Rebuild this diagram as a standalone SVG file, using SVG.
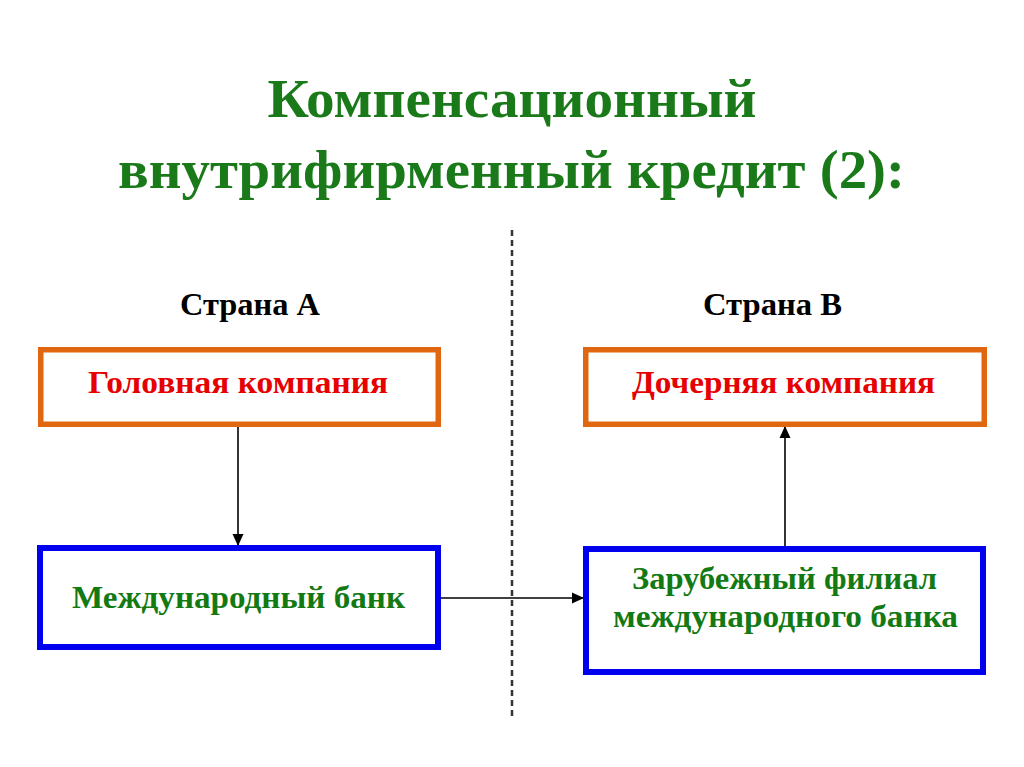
<svg xmlns="http://www.w3.org/2000/svg" width="1024" height="767" viewBox="0 0 1024 767">
<defs>
<marker id="arr" markerWidth="12" markerHeight="12" refX="11" refY="6" orient="auto" markerUnits="userSpaceOnUse"><path d="M0,0.5 L12,6 L0,11.5 Z" fill="#000"/></marker>
<style>
text{font-family:"Liberation Serif","Times New Roman",serif;font-weight:bold;text-anchor:middle}
.title{font-size:55px;fill:#1a7a1a}
.lbl{font-size:32px;fill:#000}
.red{font-size:32px;fill:#e60000}
.grn{font-size:32px;fill:#137a13}
.ob{fill:#fff;stroke:#e0660f;stroke-width:5.5}
.bb{fill:#fff;stroke:#0000ee;stroke-width:6}
.con{stroke:#000;stroke-width:1.6;fill:none;marker-end:url(#arr)}
</style>
</defs>
<rect width="1024" height="767" fill="#fff"/>
<text class="title" x="512" y="117" textLength="489" lengthAdjust="spacingAndGlyphs">Компенсационный</text>
<text class="title" x="511.5" y="188" textLength="787" lengthAdjust="spacingAndGlyphs">внутрифирменный кредит (2):</text>
<line x1="512" y1="230" x2="512" y2="720" stroke="#333" stroke-width="2.5" stroke-dasharray="6,4"/>
<text class="lbl" x="250" y="315" textLength="140" lengthAdjust="spacingAndGlyphs">Страна А</text>
<text class="lbl" x="772.5" y="315" textLength="139" lengthAdjust="spacingAndGlyphs">Страна В</text>
<g id="connectors">
<line class="con" x1="238" y1="427" x2="238" y2="545"/>
<line class="con" x1="441" y1="598" x2="583" y2="598"/>
<line class="con" x1="785" y1="546" x2="785" y2="427"/>
</g>
<g id="head">
<rect class="ob" x="40.75" y="349.75" width="397.5" height="74.5"/>
<text class="red" x="238" y="393" textLength="300" lengthAdjust="spacingAndGlyphs">Головная компания</text>
</g>
<g id="bank">
<rect class="bb" x="40" y="548" width="398" height="99"/>
<text class="grn" x="238.5" y="608" textLength="333" lengthAdjust="spacingAndGlyphs">Международный банк</text>
</g>
<g id="sub">
<rect class="ob" x="585.75" y="349.75" width="398.5" height="74.5"/>
<text class="red" x="783.5" y="393" textLength="303" lengthAdjust="spacingAndGlyphs">Дочерняя компания</text>
</g>
<g id="branch">
<rect class="bb" x="586" y="549" width="397" height="123"/>
<text class="grn" x="784.5" y="589" textLength="305" lengthAdjust="spacingAndGlyphs">Зарубежный филиал</text>
<text class="grn" x="785.5" y="627" textLength="345" lengthAdjust="spacingAndGlyphs">международного банка</text>
</g>
</svg>
